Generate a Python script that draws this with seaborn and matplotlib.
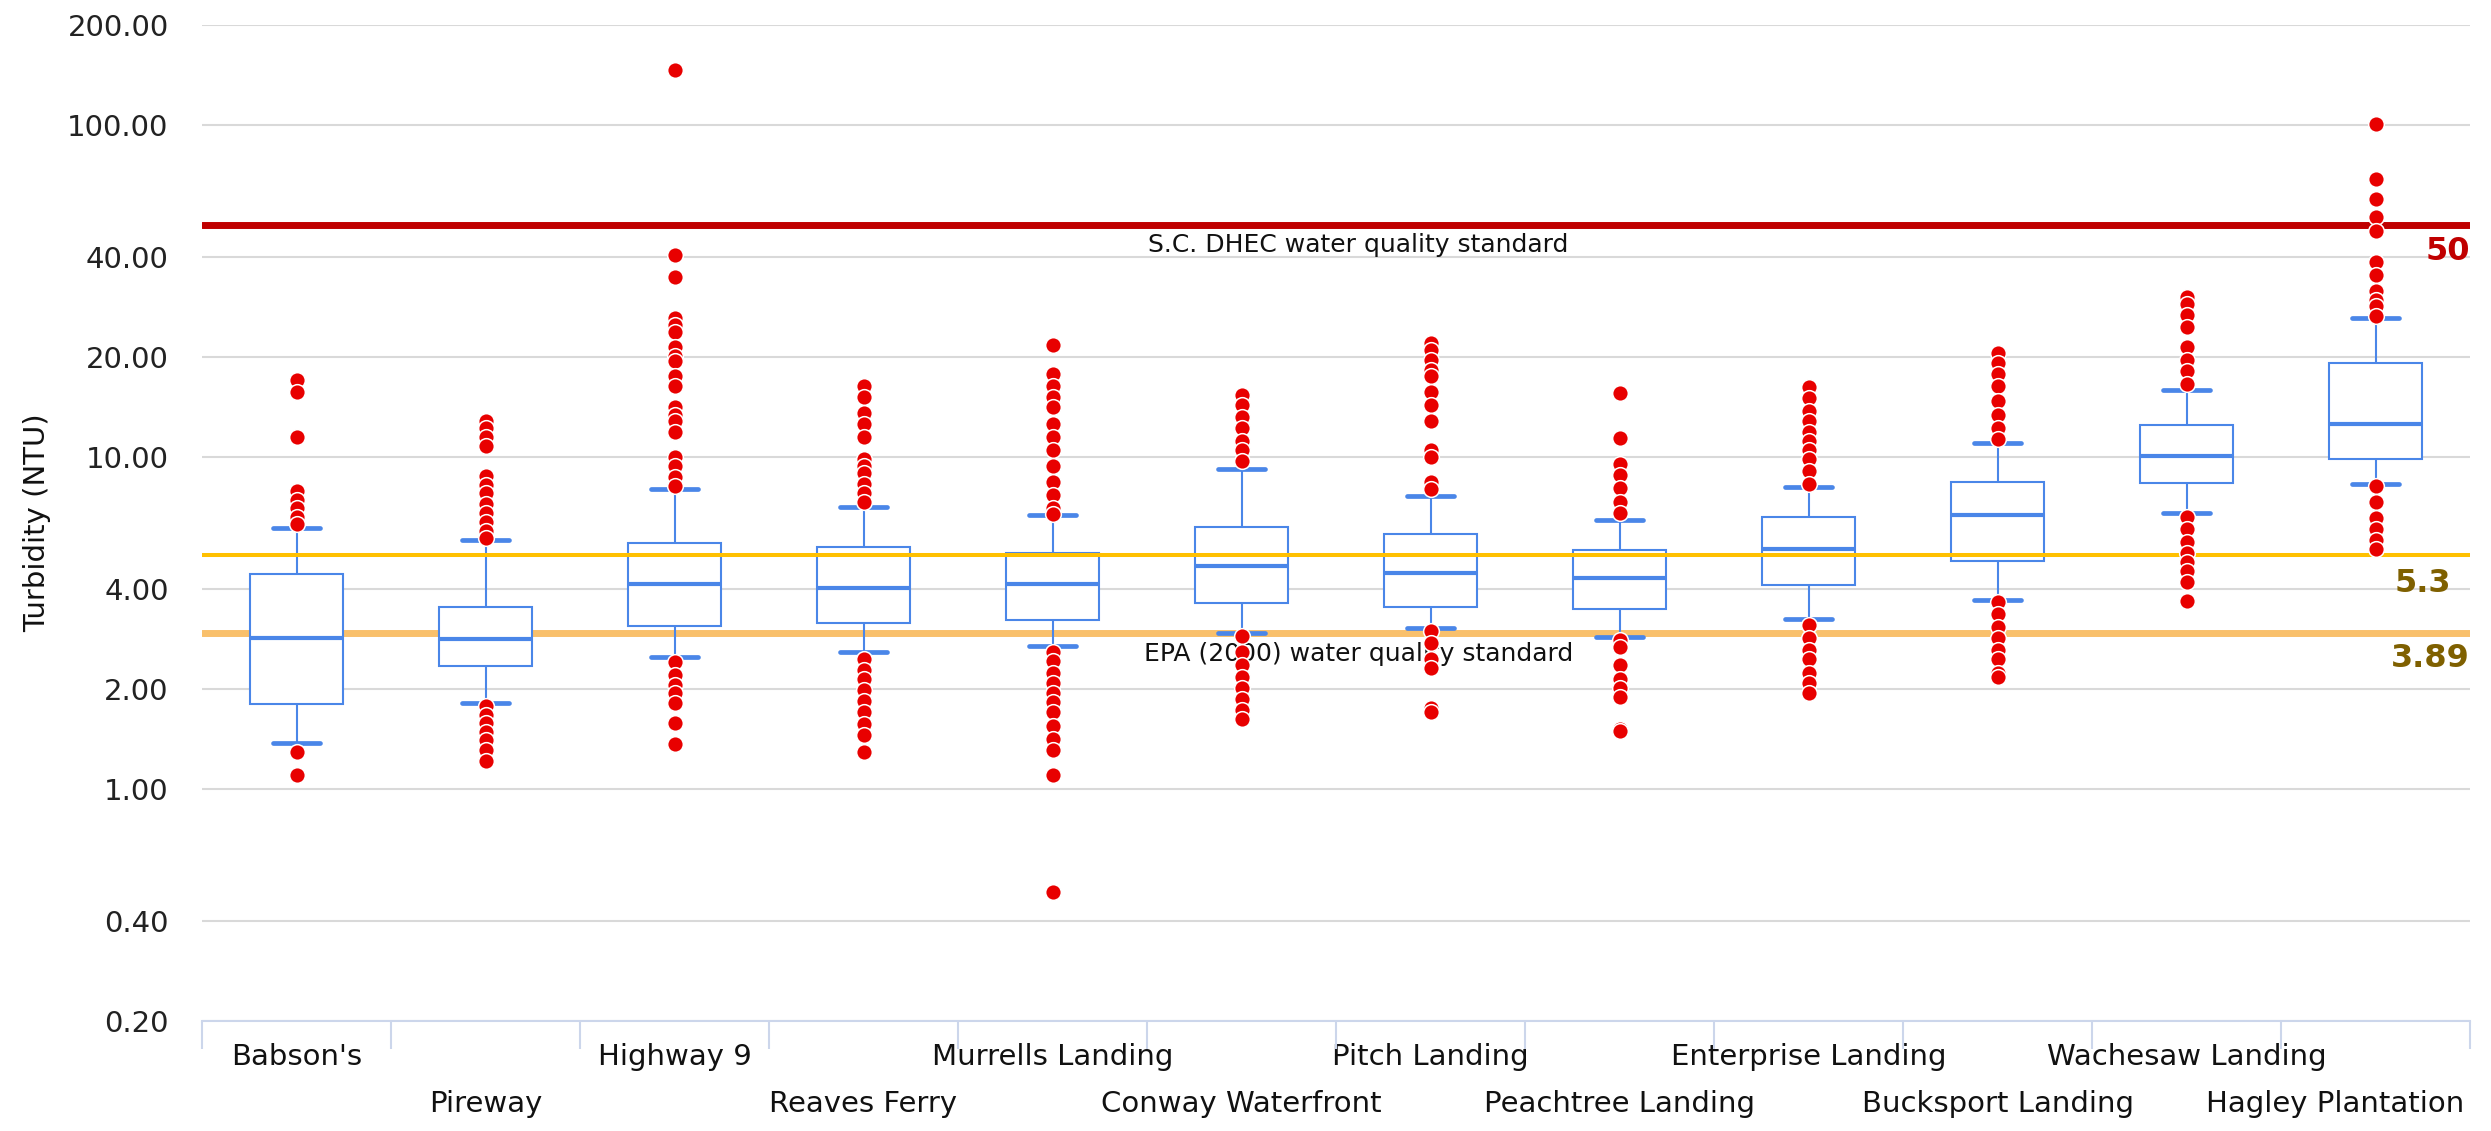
import numpy as np
import pandas as pd
import matplotlib
matplotlib.use("Agg")
import matplotlib.pyplot as plt
import matplotlib.transforms as mtransforms
import seaborn as sns
from matplotlib.ticker import FixedLocator, FixedFormatter, NullLocator

# ---------------- data ----------------
categories = ["Babson's", "Pireway", "Highway 9", "Reaves Ferry", "Murrells Landing",
              "Conway Waterfront", "Pitch Landing", "Peachtree Landing",
              "Enterprise Landing", "Bucksport Landing", "Wachesaw Landing",
              "Hagley Plantation"]

whisker_low  = [1.38, 1.81, 2.50, 2.58, 2.70, 2.95, 3.05, 2.87, 3.24, 3.71, 6.76, 8.28]
q1           = [1.80, 2.34, 3.09, 3.16, 3.23, 3.64, 3.53, 3.48, 4.12, 4.87, 8.34, 9.88]
median       = [2.84, 2.83, 4.15, 4.02, 4.15, 4.70, 4.48, 4.33, 5.28, 6.67, 10.1, 12.6]
q3           = [4.44, 3.52, 5.51, 5.34, 5.12, 6.14, 5.84, 5.24, 6.61, 8.43, 12.5, 19.2]
whisker_high = [6.10, 5.64, 8.02, 7.08, 6.67, 9.20, 7.65, 6.45, 8.10, 11.05, 15.9, 26.3]

out_babsons   = [17.1, 15.7, 11.5, 7.87, 7.44, 7.04, 6.61, 6.27, 1.29, 1.10]
out_pireway   = [12.8, 12.2, 11.5, 10.8, 8.75, 8.22, 7.80, 7.21, 6.78, 6.37, 5.98, 5.71,
                 1.78, 1.67, 1.58, 1.48, 1.40, 1.31, 1.21]
out_highway9  = [146, 40.5, 34.9, 26.2, 25.0, 23.8, 21.4, 20.1, 19.5, 17.5, 16.3, 14.1,
                 13.4, 12.8, 11.9, 10.0, 9.4, 8.7, 8.2,
                 2.42, 2.20, 2.05, 1.94, 1.81, 1.58, 1.37]
out_reaves    = [16.4, 15.2, 13.6, 12.6, 11.5, 9.85, 9.4, 8.97, 8.3, 7.8, 7.3,
                 2.47, 2.28, 2.15, 1.98, 1.84, 1.70, 1.57, 1.45, 1.29]
out_murrells  = [21.8, 17.8, 16.4, 15.2, 14.1, 12.6, 11.5, 10.5, 9.4, 8.4, 7.68, 7.0, 6.75,
                 2.59, 2.43, 2.24, 2.08, 1.95, 1.83, 1.70, 1.55, 1.41, 1.31, 1.10, 0.49]
out_conway    = [15.4, 14.3, 13.2, 12.2, 11.2, 10.5, 9.7,
                 2.88, 2.58, 2.36, 2.18, 2.02, 1.86, 1.73, 1.62]
out_pitch     = [22.1, 21.0, 19.6, 18.3, 17.5, 15.7, 14.3, 12.8, 10.5, 10.0, 8.4, 8.0,
                 3.0, 2.75, 2.47, 2.32, 1.75, 1.70]
out_peachtree = [15.6, 11.4, 9.55, 8.83, 8.04, 7.3, 6.78,
                 2.80, 2.67, 2.36, 2.15, 2.01, 1.89, 1.52, 1.49]
out_enterprise = [16.2, 15.0, 13.8, 12.8, 11.9, 11.2, 10.5, 9.85, 9.1, 8.3,
                  3.12, 2.84, 2.62, 2.47, 2.24, 2.08, 1.95]
out_bucksport = [20.5, 19.2, 17.8, 16.4, 14.7, 13.4, 12.2, 11.3,
                 3.66, 3.36, 3.07, 2.84, 2.62, 2.47, 2.24, 2.18]
out_wachesaw  = [30.3, 28.8, 26.7, 24.7, 21.5, 19.6, 18.2, 16.6,
                 6.6, 6.06, 5.53, 5.12, 4.84, 4.52, 4.21, 3.67]
out_hagley    = [101, 68.6, 59.7, 52.7, 47.8, 38.7, 35.3, 31.7, 29.8, 28.5, 26.6,
                 8.2, 7.3, 6.55, 6.06, 5.61, 5.28]

outlier_lists = [out_babsons, out_pireway, out_highway9, out_reaves, out_murrells,
                 out_conway, out_pitch, out_peachtree, out_enterprise, out_bucksport,
                 out_wachesaw, out_hagley]

y_ticks = [0.2, 0.4, 1, 2, 4, 10, 20, 40, 100, 200]
y_tick_labels = ["%.2f" % v for v in y_ticks]

dhec_value, dhec_text, dhec_label = 50, "S.C. DHEC water quality standard", "50"
yellow_value, yellow_label = 5.06, "5.3"
epa_value, epa_text, epa_label = 2.94, "EPA (2000) water quality standard", "3.89"

# ---------------- styling ----------------
BLUE = "#4a86e8"
RED_DOT = "#e80000"
AXIS_C = "#ccd6eb"
GRID_C = "#d9d9d9"
OLIVE = "#7f6000"

sns.set_style("white")
plt.rcParams["font.family"] = ["DejaVu Sans"]

W, H = 2491, 1131
fig = plt.figure(figsize=(W / 100, H / 100), dpi=100)
L, R, T, B = 202, 2470, 25, 1021
ax = fig.add_axes([L / W, 1 - B / H, (R - L) / W, (B - T) / H])

box_df = pd.DataFrame({
    "site": np.repeat(categories, 5),
    "value": np.column_stack([whisker_low, q1, median, q3, whisker_high]).ravel(),
})
out_df = pd.DataFrame({
    "site": [c for c, lst in zip(categories, outlier_lists) for _ in lst],
    "value": [v for lst in outlier_lists for v in lst],
})

sns.boxplot(data=box_df, x="site", y="value", order=categories, whis=(0, 100),
            width=0.49, color="white", saturation=1, linecolor=BLUE, linewidth=1.5,
            fill=True, showfliers=False, log_scale=True, ax=ax,
            medianprops=dict(linewidth=3.0, color=BLUE),
            capprops=dict(linewidth=3.4, color=BLUE),
            whiskerprops=dict(linewidth=1.5, color=BLUE),
            boxprops=dict(linewidth=1.5, edgecolor=BLUE, facecolor="white"))

sns.stripplot(data=out_df, x="site", y="value", order=categories, jitter=False,
              color=RED_DOT, size=11.3, edgecolor="white", linewidth=1.1,
              log_scale=True, ax=ax, zorder=6)

# reference lines
ax.axhline(epa_value, color="#f9c06b", linewidth=5, zorder=1.5)
ax.axhline(yellow_value, color="#ffc000", linewidth=2.9, zorder=3)
ax.axhline(dhec_value, color="#c00000", linewidth=5, zorder=3)

ax.annotate(dhec_text, xy=(0.51, dhec_value), xycoords=("axes fraction", "data"),
            xytext=(0, -14.5), textcoords="offset points", ha="center", va="center",
            fontsize=18, color="#111111", zorder=4)
ax.annotate(epa_text, xy=(0.51, epa_value), xycoords=("axes fraction", "data"),
            xytext=(0, -14.5), textcoords="offset points", ha="center", va="center",
            fontsize=18, color="#111111", zorder=4)
ax.annotate(dhec_label, xy=(1.0, dhec_value), xycoords=("axes fraction", "data"),
            xytext=(0, -19.5), textcoords="offset points", ha="right", va="center",
            fontsize=23, fontweight="bold", color="#c00000", zorder=7)
ax.annotate(yellow_label, xy=(0.9916, yellow_value), xycoords=("axes fraction", "data"),
            xytext=(0, -20.5), textcoords="offset points", ha="right", va="center",
            fontsize=23, fontweight="bold", color=OLIVE, zorder=7)
ax.annotate(epa_label, xy=(1.0, epa_value), xycoords=("axes fraction", "data"),
            xytext=(0, -18), textcoords="offset points", ha="right", va="center",
            fontsize=23, fontweight="bold", color=OLIVE, zorder=7)

# axes
ax.set_ylim(0.2, 200)
ax.set_xlim(-0.5, len(categories) - 0.5)
ax.yaxis.set_major_locator(FixedLocator(y_ticks))
ax.yaxis.set_major_formatter(FixedFormatter(y_tick_labels))
ax.yaxis.set_minor_locator(NullLocator())
ax.grid(axis="y", color=GRID_C, linewidth=1.5)
ax.grid(axis="x", visible=False)
ax.set_axisbelow(True)

ax.set_xticks(range(len(categories)))
ax.set_xticklabels(categories)
ax.set_xticks(np.arange(-0.5, len(categories), 1), minor=True)
ax.set_xlabel("")
ax.set_ylabel("Turbidity (NTU)", fontsize=21, color="#111111")
ax.yaxis.set_label_coords(-0.0665, 0.5)

for s in ["top", "right", "left"]:
    ax.spines[s].set_visible(False)
ax.spines["bottom"].set_color(AXIS_C)
ax.spines["bottom"].set_linewidth(1.5)
ax.spines["bottom"].set_zorder(2.5)

ax.tick_params(axis="y", which="both", left=False, length=0, pad=24, labelsize=21,
               labelcolor="#222222")
ax.tick_params(axis="x", which="major", bottom=True, length=0, labelsize=21,
               labelcolor="#111111")
ax.tick_params(axis="x", which="minor", bottom=True, length=20, width=1.5,
               color=AXIS_C, direction="out")

for i, t in enumerate(ax.xaxis.get_major_ticks()):
    t.set_pad(16 if i % 2 == 0 else 50)

# keep the last (long) label inside the chart, as the reference does
last_label = ax.get_xticklabels()[-1]
last_label.set_transform(last_label.get_transform()
                         + mtransforms.ScaledTranslation(-0.40, 0, fig.dpi_scale_trans))

fig.savefig("out.png", dpi=100, facecolor="white")
